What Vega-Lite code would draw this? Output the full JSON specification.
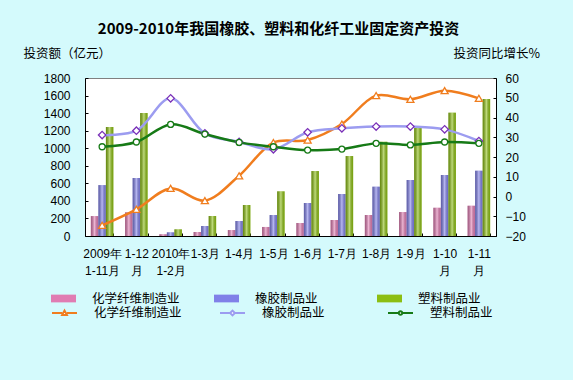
{
  "$schema": "https://vega.github.io/schema/vega-lite/v6.json",
  "width": 411,
  "height": 158,
  "autosize": {"type": "none"},
  "padding": {"left": 85, "top": 78, "right": 77, "bottom": 144},
  "background": "#D4FAFC",
  "config": {
    "view": {"fill": "white", "stroke": "#808080", "strokeWidth": 1},
    "font": "Noto Sans CJK SC",
    "axis": {"domainColor": "black", "tickColor": "black", "labelColor": "black", "titleColor": "black", "grid": false}
  },
  "title": {
    "text": "2009-2010年我国橡胶、塑料和化纤工业固定资产投资",
    "fontSize": 15,
    "fontWeight": "bold",
    "font": "Noto Sans CJK SC",
    "color": "black",
    "anchor": "middle",
    "dx": -12,
    "offset": 10
  },
  "datasets": {
    "bars": [
      {"月份": "2009年|1-11月", "行业": "化学纤维制造业", "投资额": 227},
      {"月份": "1-12|月", "行业": "化学纤维制造业", "投资额": 270},
      {"月份": "2010年|1-2月", "行业": "化学纤维制造业", "投资额": 20},
      {"月份": "1-3月", "行业": "化学纤维制造业", "投资额": 46},
      {"月份": "1-4月", "行业": "化学纤维制造业", "投资额": 68},
      {"月份": "1-5月", "行业": "化学纤维制造业", "投资额": 103},
      {"月份": "1-6月", "行业": "化学纤维制造业", "投资额": 148},
      {"月份": "1-7月", "行业": "化学纤维制造业", "投资额": 182},
      {"月份": "1-8月", "行业": "化学纤维制造业", "投资额": 239},
      {"月份": "1-9月", "行业": "化学纤维制造业", "投资额": 273},
      {"月份": "1-10|月", "行业": "化学纤维制造业", "投资额": 322},
      {"月份": "1-11|月", "行业": "化学纤维制造业", "投资额": 345},
      {"月份": "2009年|1-11月", "行业": "橡胶制品业", "投资额": 580},
      {"月份": "1-12|月", "行业": "橡胶制品业", "投资额": 661},
      {"月份": "2010年|1-2月", "行业": "橡胶制品业", "投资额": 42},
      {"月份": "1-3月", "行业": "橡胶制品业", "投资额": 114},
      {"月份": "1-4月", "行业": "橡胶制品业", "投资额": 171},
      {"月份": "1-5月", "行业": "橡胶制品业", "投资额": 239},
      {"月份": "1-6月", "行业": "橡胶制品业", "投资额": 376},
      {"月份": "1-7月", "行业": "橡胶制品业", "投资额": 478},
      {"月份": "1-8月", "行业": "橡胶制品业", "投资额": 562},
      {"月份": "1-9月", "行业": "橡胶制品业", "投资额": 638},
      {"月份": "1-10|月", "行业": "橡胶制品业", "投资额": 695},
      {"月份": "1-11|月", "行业": "橡胶制品业", "投资额": 744},
      {"月份": "2009年|1-11月", "行业": "塑料制品业", "投资额": 1243},
      {"月份": "1-12|月", "行业": "塑料制品业", "投资额": 1401},
      {"月份": "2010年|1-2月", "行业": "塑料制品业", "投资额": 76},
      {"月份": "1-3月", "行业": "塑料制品业", "投资额": 228},
      {"月份": "1-4月", "行业": "塑料制品业", "投资额": 353},
      {"月份": "1-5月", "行业": "塑料制品业", "投资额": 509},
      {"月份": "1-6月", "行业": "塑料制品业", "投资额": 740},
      {"月份": "1-7月", "行业": "塑料制品业", "投资额": 911},
      {"月份": "1-8月", "行业": "塑料制品业", "投资额": 1074},
      {"月份": "1-9月", "行业": "塑料制品业", "投资额": 1234},
      {"月份": "1-10|月", "行业": "塑料制品业", "投资额": 1405},
      {"月份": "1-11|月", "行业": "塑料制品业", "投资额": 1561}
    ],
    "lines": [
      {"月份": "2009年|1-11月", "类别": "化学纤维制造业", "增长": -14.6},
      {"月份": "1-12|月", "类别": "化学纤维制造业", "增长": -6.5},
      {"月份": "2010年|1-2月", "类别": "化学纤维制造业", "增长": 4.1},
      {"月份": "1-3月", "类别": "化学纤维制造业", "增长": -2.1},
      {"月份": "1-4月", "类别": "化学纤维制造业", "增长": 10.5},
      {"月份": "1-5月", "类别": "化学纤维制造业", "增长": 27.3},
      {"月份": "1-6月", "类别": "化学纤维制造业", "增长": 28.6},
      {"月份": "1-7月", "类别": "化学纤维制造业", "增长": 36.7},
      {"月份": "1-8月", "类别": "化学纤维制造业", "增长": 51.1},
      {"月份": "1-9月", "类别": "化学纤维制造业", "增长": 49.2},
      {"月份": "1-10|月", "类别": "化学纤维制造业", "增长": 53.6},
      {"月份": "1-11|月", "类别": "化学纤维制造业", "增长": 49.7},
      {"月份": "2009年|1-11月", "类别": "橡胶制品业", "增长": 31.1},
      {"月份": "1-12|月", "类别": "橡胶制品业", "增长": 33.3},
      {"月份": "2010年|1-2月", "类别": "橡胶制品业", "增长": 49.7},
      {"月份": "1-3月", "类别": "橡胶制品业", "增长": 32.0},
      {"月份": "1-4月", "类别": "橡胶制品业", "增长": 27.6},
      {"月份": "1-5月", "类别": "橡胶制品业", "增长": 23.9},
      {"月份": "1-6月", "类别": "橡胶制品业", "增长": 32.5},
      {"月份": "1-7月", "类别": "橡胶制品业", "增长": 34.5},
      {"月份": "1-8月", "类别": "橡胶制品业", "增长": 35.4},
      {"月份": "1-9月", "类别": "橡胶制品业", "增长": 35.4},
      {"月份": "1-10|月", "类别": "橡胶制品业", "增长": 34.0},
      {"月份": "1-11|月", "类别": "橡胶制品业", "增长": 28.1},
      {"月份": "2009年|1-11月", "类别": "塑料制品业", "增长": 25.2},
      {"月份": "1-12|月", "类别": "塑料制品业", "增长": 27.6},
      {"月份": "2010年|1-2月", "类别": "塑料制品业", "增长": 36.5},
      {"月份": "1-3月", "类别": "塑料制品业", "增长": 31.6},
      {"月份": "1-4月", "类别": "塑料制品业", "增长": 27.4},
      {"月份": "1-5月", "类别": "塑料制品业", "增长": 25.2},
      {"月份": "1-6月", "类别": "塑料制品业", "增长": 23.5},
      {"月份": "1-7月", "类别": "塑料制品业", "增长": 24.0},
      {"月份": "1-8月", "类别": "塑料制品业", "增长": 26.9},
      {"月份": "1-9月", "类别": "塑料制品业", "增长": 26.1},
      {"月份": "1-10|月", "类别": "塑料制品业", "增长": 27.6},
      {"月份": "1-11|月", "类别": "塑料制品业", "增长": 26.9}
    ],
    "mark": [
      {"文字": "中 国 产 业 竞 争 情 报 网"}
    ]
  },
  "encoding": {
    "x": {
      "field": "月份",
      "type": "nominal",
      "sort": null,
      "scale": {
        "domain": ["2009年|1-11月", "1-12|月", "2010年|1-2月", "1-3月", "1-4月", "1-5月", "1-6月", "1-7月", "1-8月", "1-9月", "1-10|月", "1-11|月"],
        "paddingInner": 0.34,
        "paddingOuter": 0.17
      },
      "axis": {
        "title": null,
        "labelAngle": 0,
        "labelExpr": "split(datum.label, '|')",
        "labelFont": "Liberation Sans",
        "labelFontSize": 12,
        "labelLineHeight": 17,
        "labelPadding": 15,
        "labelOverlap": false,
        "labelBound": false,
        "labelFlush": false,
        "tickBand": "extent",
        "tickSize": -3,
        "domainColor": "black"
      }
    }
  },
  "layer": [
    {
      "data": {"name": "bars"},
      "encoding": {
        "xOffset": {
          "field": "行业",
          "type": "nominal",
          "scale": {"domain": ["化学纤维制造业", "橡胶制品业", "塑料制品业"], "paddingInner": 0, "paddingOuter": 0}
        },
        "y": {
          "field": "投资额",
          "type": "quantitative",
          "scale": {"domain": [0, 1800], "nice": false},
          "axis": {
            "orient": "left",
            "values": [0, 200, 400, 600, 800, 1000, 1200, 1400, 1600, 1800],
            "format": "d",
            "title": "投资额（亿元）",
            "titleAngle": 0,
            "titleAlign": "left",
            "titleBaseline": "middle",
            "titleX": -62,
            "titleY": -25,
            "titleFont": "Noto Sans CJK SC",
            "titleFontSize": 12.5,
            "titleFontWeight": "normal",
            "labelFont": "Liberation Sans",
            "labelFontSize": 12,
            "labelPadding": 18,
            "tickSize": -3
          }
        }
      },
      "layer": [
        {
          "mark": {"type": "bar"},
          "encoding": {
            "fill": {
              "field": "行业",
              "type": "nominal",
              "sort": ["化学纤维制造业", "橡胶制品业", "塑料制品业"],
              "scale": {"range": ["#E07CB2", "#8080E8", "#8CBE12"]},
              "legend": {
                "title": null,
                "orient": "none",
                "legendX": -34,
                "legendY": 208,
                "direction": "horizontal",
                "columns": 3,
                "gridAlign": "all",
                "columnPadding": 34,
                "padding": 0,
                "symbolType": "M-1,-0.31H1V0.31H-1Z",
                "symbolSize": 625,
                "symbolStrokeWidth": 0,
                "labelFont": "Noto Sans CJK SC",
                "labelFontSize": 12.5,
                "labelColor": "black",
                "labelOffset": 16,
                "labelLimit": 200
              }
            }
          }
        },
        {
          "mark": {
            "type": "bar",
            "fill": {"gradient": "linear", "x1": 0, "y1": 0, "x2": 1, "y2": 0, "stops": [{"offset": 0, "color": "rgba(0,0,0,0.28)"}, {"offset": 0.5, "color": "rgba(255,255,255,0.45)"}, {"offset": 1, "color": "rgba(0,0,0,0.12)"}]}
          }
        },
        {
          "data": {"name": "mark"},
          "mark": {"type": "text", "align": "center", "baseline": "middle", "fontSize": 26, "fontWeight": "bold", "font": "Noto Sans CJK SC", "color": "#9A9A9A", "opacity": 0.28},
          "encoding": {
            "x": {"datum": "1-5月", "bandPosition": 1},
            "xOffset": null,
            "y": {"datum": 520, "type": "quantitative"},
            "text": {"field": "文字", "type": "nominal"}
          }
        }
      ]
    },
    {
      "data": {"name": "lines"},
      "encoding": {
        "y": {
          "field": "增长",
          "type": "quantitative",
          "scale": {"domain": [-20, 60], "nice": false},
          "axis": {
            "orient": "right",
            "values": [-20, -10, 0, 10, 20, 30, 40, 50, 60],
            "title": "投资同比增长%",
            "titleAngle": 0,
            "titleAlign": "left",
            "titleBaseline": "middle",
            "titleX": -43,
            "titleY": -25,
            "titleFont": "Noto Sans CJK SC",
            "titleFontSize": 12.5,
            "titleFontWeight": "normal",
            "labelFont": "Liberation Sans",
            "labelFontSize": 12,
            "labelPadding": 12,
            "tickSize": -3
          }
        }
      },
      "layer": [
        {
          "transform": [{"filter": {"field": "类别", "equal": "化学纤维制造业"}}],
          "mark": {"type": "line", "interpolate": "catmull-rom", "strokeWidth": 2.5, "stroke": "#F07D1E"}
        },
        {
          "transform": [{"filter": {"field": "类别", "equal": "橡胶制品业"}}],
          "mark": {"type": "line", "interpolate": "catmull-rom", "strokeWidth": 2.5, "stroke": "#9C9CF0"}
        },
        {
          "transform": [{"filter": {"field": "类别", "equal": "塑料制品业"}}],
          "mark": {"type": "line", "interpolate": "catmull-rom", "strokeWidth": 2.5, "stroke": "#167A16"}
        },
        {
          "mark": {"type": "point", "filled": true, "fill": "white", "opacity": 0, "size": 625},
          "encoding": {
            "stroke": {
              "field": "类别",
              "type": "nominal",
              "scale": {"domain": ["化学纤维制造业", "橡胶制品业", "塑料制品业"], "range": ["#F07D1E", "#9C9CF0", "#167A16"]},
              "legend": {
                "title": null,
                "orient": "none",
                "legendX": -34,
                "legendY": 221.5,
                "direction": "horizontal",
                "columns": 3,
                "gridAlign": "all",
                "columnPadding": 34,
                "padding": 0,
                "symbolSize": 625,
                "symbolStrokeWidth": 2,
                "symbolOpacity": 1,
                "symbolFillColor": "white",
                "labelFont": "Noto Sans CJK SC",
                "labelFontSize": 12.5,
                "labelColor": "black",
                "labelOffset": 16,
                "labelLimit": 200
              }
            },
            "shape": {
              "field": "类别",
              "type": "nominal",
              "scale": {
                "domain": ["化学纤维制造业", "橡胶制品业", "塑料制品业"],
                "range": [
                  "M-1,0H-0.19M0.19,0H1M-0.19,0.15L0,-0.19L0.19,0.15Z",
                  "M-1,0H-0.19M0.19,0H1M-0.19,0L0,-0.19L0.19,0L0,0.19Z",
                  "M-1,0H-0.14M0.14,0H1M-0.14,0A0.14,0.14 0 1,0 0.14,0A0.14,0.14 0 1,0 -0.14,0Z"
                ]
              },
              "legend": {
                "title": null,
                "orient": "none",
                "legendX": -34,
                "legendY": 221.5,
                "direction": "horizontal",
                "columns": 3,
                "gridAlign": "all",
                "columnPadding": 34,
                "padding": 0,
                "symbolSize": 625,
                "symbolStrokeWidth": 2,
                "symbolOpacity": 1,
                "symbolFillColor": "white",
                "labelFont": "Noto Sans CJK SC",
                "labelFontSize": 12.5,
                "labelColor": "black",
                "labelOffset": 16,
                "labelLimit": 200
              }
            }
          }
        },
        {
          "transform": [{"filter": {"field": "类别", "equal": "化学纤维制造业"}}],
          "mark": {"type": "point", "shape": "triangle-up", "filled": true, "fill": "white", "stroke": "#F07D1E", "strokeWidth": 1.3, "size": 50, "opacity": 1}
        },
        {
          "transform": [{"filter": {"field": "类别", "equal": "橡胶制品业"}}],
          "mark": {"type": "point", "shape": "diamond", "filled": true, "fill": "white", "stroke": "#7A30B8", "strokeWidth": 1.3, "size": 55, "opacity": 1}
        },
        {
          "transform": [{"filter": {"field": "类别", "equal": "塑料制品业"}}],
          "mark": {"type": "point", "shape": "circle", "filled": true, "fill": "white", "stroke": "#167A16", "strokeWidth": 1.3, "size": 36, "opacity": 1}
        }
      ]
    }
  ],
  "resolve": {"scale": {"y": "independent"}}
}
